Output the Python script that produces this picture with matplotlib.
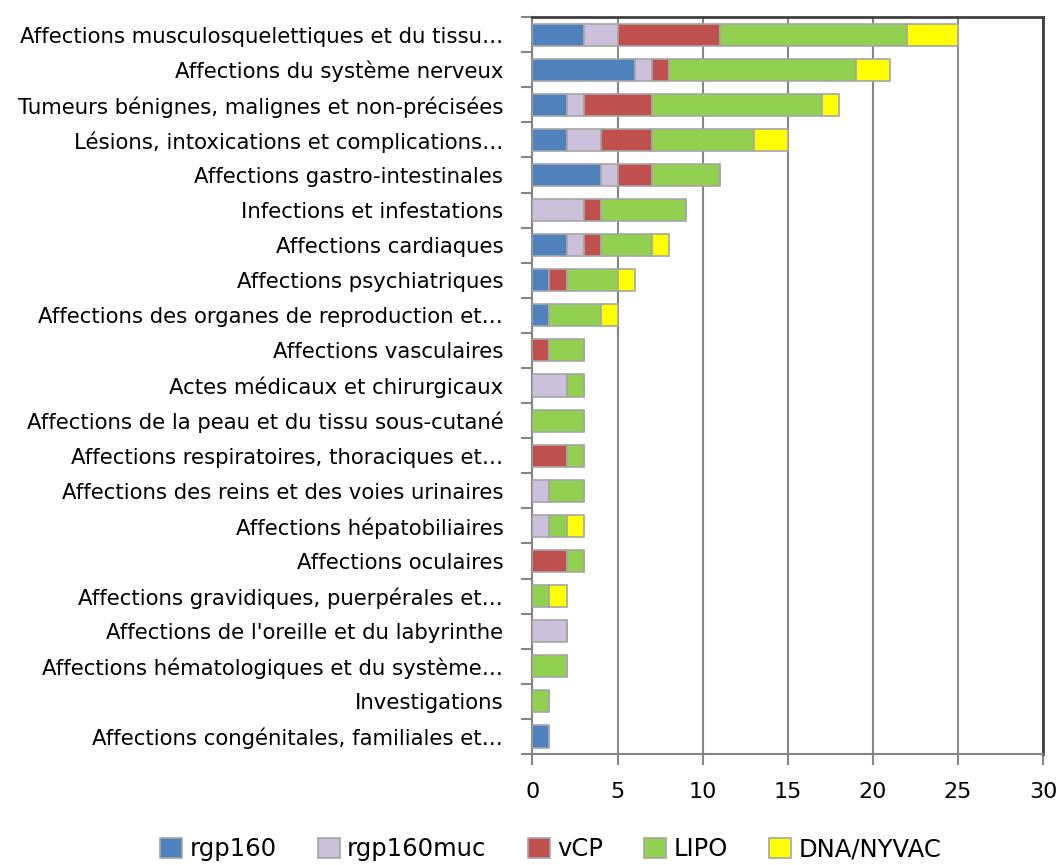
import matplotlib
matplotlib.use('Agg')
import matplotlib.pyplot as plt
import numpy as np

# categories (top to bottom)
categories = [
    "Affections musculosquelettiques et du tissu…",
    "Affections du système nerveux",
    "Tumeurs bénignes, malignes et non-précisées",
    "Lésions, intoxications et complications…",
    "Affections gastro-intestinales",
    "Infections et infestations",
    "Affections cardiaques",
    "Affections psychiatriques",
    "Affections des organes de reproduction et…",
    "Affections vasculaires",
    "Actes médicaux et chirurgicaux",
    "Affections de la peau et du tissu sous-cutané",
    "Affections respiratoires, thoraciques et…",
    "Affections des reins et des voies urinaires",
    "Affections hépatobiliaires",
    "Affections oculaires",
    "Affections gravidiques, puerpérales et…",
    "Affections de l'oreille et du labyrinthe",
    "Affections hématologiques et du système…",
    "Investigations",
    "Affections congénitales, familiales et…",
]

rgp160    = [3, 6, 2, 2, 4, 0, 2, 1, 1, 0, 0, 0, 0, 0, 0, 0, 0, 0, 0, 0, 1]
rgp160muc = [2, 1, 1, 2, 1, 3, 1, 0, 0, 0, 2, 0, 0, 1, 1, 0, 0, 2, 0, 0, 0]
vcp       = [6, 1, 4, 3, 2, 1, 1, 1, 0, 1, 0, 0, 2, 0, 0, 2, 0, 0, 0, 0, 0]
lipo      = [11, 11, 10, 6, 4, 5, 3, 3, 3, 2, 1, 3, 1, 2, 1, 1, 1, 0, 2, 1, 0]
dna_nyvac = [3, 2, 1, 2, 0, 0, 1, 1, 1, 0, 0, 0, 0, 0, 1, 0, 1, 0, 0, 0, 0]

series = [
    ("rgp160", rgp160, "#4f81bd"),
    ("rgp160muc", rgp160muc, "#ccc0da"),
    ("vCP", vcp, "#c0504d"),
    ("LIPO", lipo, "#92d050"),
    ("DNA/NYVAC", dna_nyvac, "#ffff00"),
]

plt.rcParams['font.family'] = ['DejaVu Sans']

fig = plt.figure(figsize=(10.59, 8.65), dpi=100)
ax = fig.add_axes([0.5028, 0.1283, 0.4821, 0.852])

y = np.arange(len(categories))
left = np.zeros(len(categories))
for name, vals, col in series:
    vals = np.array(vals, dtype=float)
    ax.barh(y, vals, left=left, height=0.63, color=col, edgecolor='#a6a6a6',
            linewidth=1.2, label=name, zorder=3)
    left += vals

ax.set_xlim(0, 30)
ax.set_ylim(len(categories) - 0.5, -0.5)
ax.set_xticks(np.arange(0, 31, 5))
ax.xaxis.grid(True, color='#868686', linewidth=1.5, zorder=0)

ax.set_yticks(y)
ax.set_yticklabels(categories, fontsize=15.3)
ax.set_yticks(np.arange(-0.5, len(categories), 1), minor=True)
ax.tick_params(axis='y', which='major', length=0, pad=21)
ax.tick_params(axis='y', which='minor', length=8, width=1.5, color='#868686')
ax.tick_params(axis='x', length=8, width=1.5, color='#868686', labelsize=16, pad=12)

for s in ['left', 'bottom']:
    ax.spines[s].set_color('#868686')
    ax.spines[s].set_linewidth(1.5)
for s in ['top', 'right']:
    ax.spines[s].set_color('#404040')
    ax.spines[s].set_linewidth(2)

fig.legend(loc='center', bbox_to_anchor=(0.52, 0.018), ncol=5, frameon=False,
           fontsize=17.5, handlelength=0.9, handleheight=0.9, handletextpad=0.3,
           columnspacing=1.7)

fig.savefig('out.png', dpi=100)
